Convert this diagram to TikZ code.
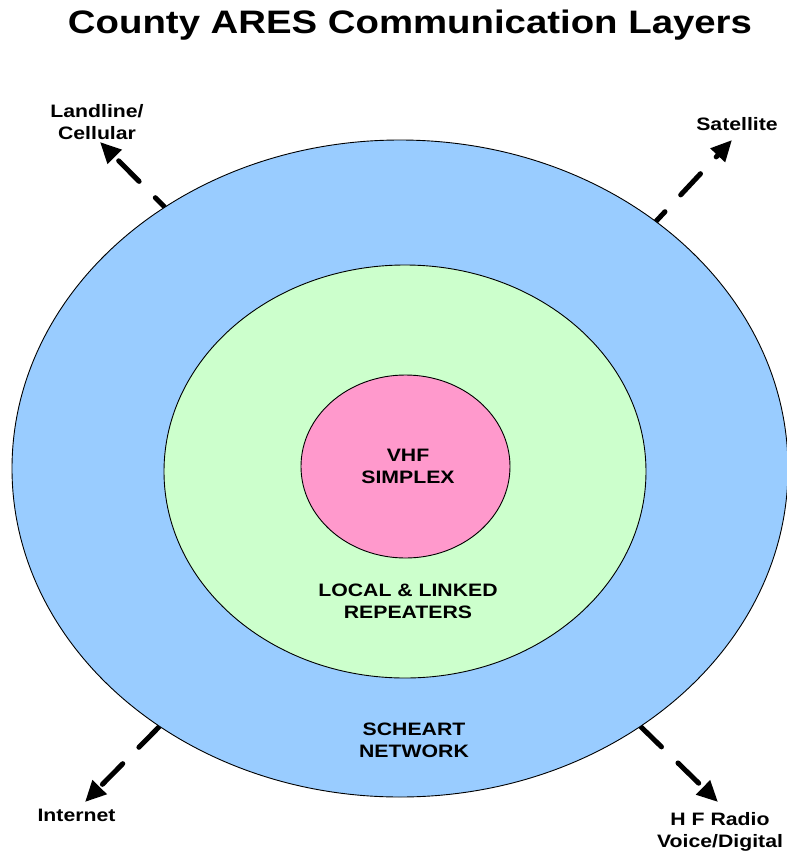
\documentclass[tikz,border=0pt]{standalone}
\usepackage{fontspec}
\setmainfont{Liberation Sans}[FakeStretch=1.18]
\usetikzlibrary{arrows.meta,shapes.geometric,backgrounds}
\definecolor{ringblue}{HTML}{99CCFF}
\definecolor{ringgreen}{HTML}{CCFFCC}
\definecolor{ringpink}{HTML}{FF99CC}
\tikzset{
  ring/.style={ellipse,draw=black,line width=0.9pt,inner sep=0pt},
  lbl/.style={font=\bfseries\fontsize{18}{22}\selectfont,align=center,inner sep=0pt},
  link/.style={line width=5pt,line cap=round,dash pattern=on 29pt off 23pt,-{Triangle[length=21pt,width=19pt]}},
  linktop/.style={link,dash phase=16pt}
}
\begin{document}
\begin{tikzpicture}[x=1pt,y=-1pt]
\useasboundingbox (0,0) rectangle (787,855);
\node[font=\bfseries\fontsize{32.5}{38}\selectfont,inner sep=0pt] (title) at (410,25) {County ARES Communication Layers};
\coordinate (tland) at (100,142);
\coordinate (tsat) at (732,140);
\coordinate (tinet) at (85,802);
\coordinate (thf) at (718,802);
\node[ring,fill=ringblue,minimum width=776pt,minimum height=657pt] (outer) at (400,468.5) {};
\node[ring,fill=ringgreen,minimum width=482pt,minimum height=413pt] (mid) at (405,471.5) {};
\node[ring,fill=ringpink,minimum width=209pt,minimum height=183pt] (inner) at (405.5,466.5) {};
\begin{pgfonlayer}{background}
\draw[linktop] (outer.132.3) -- (tland);
\draw[linktop] (outer.44.5) -- (tsat);
\draw[link] (outer.227.1) -- (tinet);
\draw[link] (outer.313.7) -- (thf);
\end{pgfonlayer}
\node[lbl] (vhf) at (408,466) {VHF\\SIMPLEX};
\node[lbl] (rep) at (408,601) {LOCAL \& LINKED\\REPEATERS};
\node[lbl] (sch) at (414,740) {SCHEART\\NETWORK};
\node[lbl] (land) at (97,122) {Landline/\\Cellular};
\node[lbl] (sat) at (737,124) {Satellite};
\node[lbl] (inet) at (76.5,815) {Internet};
\node[lbl] (hf) at (720,832) {H F Radio\\Voice/Digital};
\end{tikzpicture}
\end{document}
